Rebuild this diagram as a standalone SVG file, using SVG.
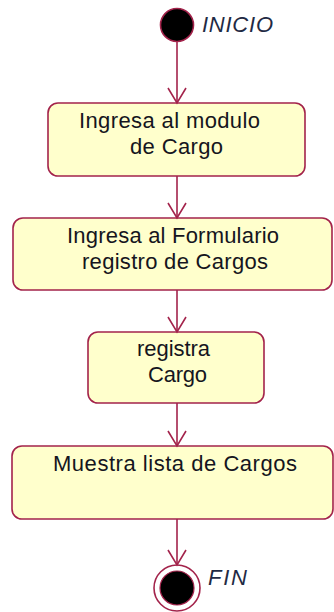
<svg xmlns="http://www.w3.org/2000/svg" width="334" height="612" viewBox="0 0 334 612">
<style>
.box{fill:#ffffcc;stroke:#a3234b;stroke-width:1.6}
.t{font-family:"Liberation Sans",Arial,sans-serif;font-size:22px;fill:#151520}
.lbl{font-family:"Liberation Sans",Arial,sans-serif;font-size:22px;font-style:italic;fill:#1f2a44}
.c{stroke:#a3234b;stroke-width:1.6;fill:none}
</style>
<defs>
<marker id="ah" markerWidth="18" markerHeight="22" refX="16" refY="10" orient="auto" markerUnits="userSpaceOnUse" viewBox="0 0 18 20">
<path d="M1,1 L16,10 L1,19" fill="none" stroke="#a3234b" stroke-width="1.6"/>
</marker>
</defs>
<rect width="334" height="612" fill="#ffffff"/>
<g id="start">
<circle cx="177" cy="25" r="16.5" fill="#000" stroke="#a3234b" stroke-width="1.6"/>
<text class="lbl" x="202" y="32" textLength="71" lengthAdjust="spacing">INICIO</text>
</g>
<g id="n1">
<rect class="box" x="48" y="103" width="257" height="73" rx="10"/>
<text class="t" x="79" y="128" textLength="181" lengthAdjust="spacing">Ingresa al modulo</text>
<text class="t" x="130" y="154" textLength="93" lengthAdjust="spacing">de Cargo</text>
</g>
<g id="n2">
<rect class="box" x="13" y="218" width="319" height="72" rx="10"/>
<text class="t" x="67" y="243" textLength="212" lengthAdjust="spacing">Ingresa al Formulario</text>
<text class="t" x="82" y="269" textLength="186" lengthAdjust="spacing">registro de Cargos</text>
</g>
<g id="n3">
<rect class="box" x="88" y="332" width="176" height="71" rx="10"/>
<text class="t" x="137" y="356" textLength="73" lengthAdjust="spacing">registra</text>
<text class="t" x="148" y="382" textLength="59" lengthAdjust="spacing">Cargo</text>
</g>
<g id="n4">
<rect class="box" x="12" y="446" width="321" height="73" rx="10"/>
<text class="t" x="53" y="471" textLength="244" lengthAdjust="spacing">Muestra lista de Cargos</text>
</g>
<g id="end">
<circle cx="177" cy="588" r="23" fill="#fff" stroke="#a3234b" stroke-width="1.6"/>
<circle cx="177" cy="588" r="17" fill="#000" stroke="#a3234b" stroke-width="1.2"/>
<text class="lbl" x="208" y="585" textLength="39" lengthAdjust="spacing">FIN</text>
</g>
<g id="connectors">
<line class="c" x1="177" y1="42" x2="177" y2="103" marker-end="url(#ah)"/>
<line class="c" x1="177" y1="176" x2="177" y2="218" marker-end="url(#ah)"/>
<line class="c" x1="177" y1="290" x2="177" y2="332" marker-end="url(#ah)"/>
<line class="c" x1="177" y1="403" x2="177" y2="446" marker-end="url(#ah)"/>
<line class="c" x1="177" y1="519" x2="177" y2="565" marker-end="url(#ah)"/>
</g>
</svg>
